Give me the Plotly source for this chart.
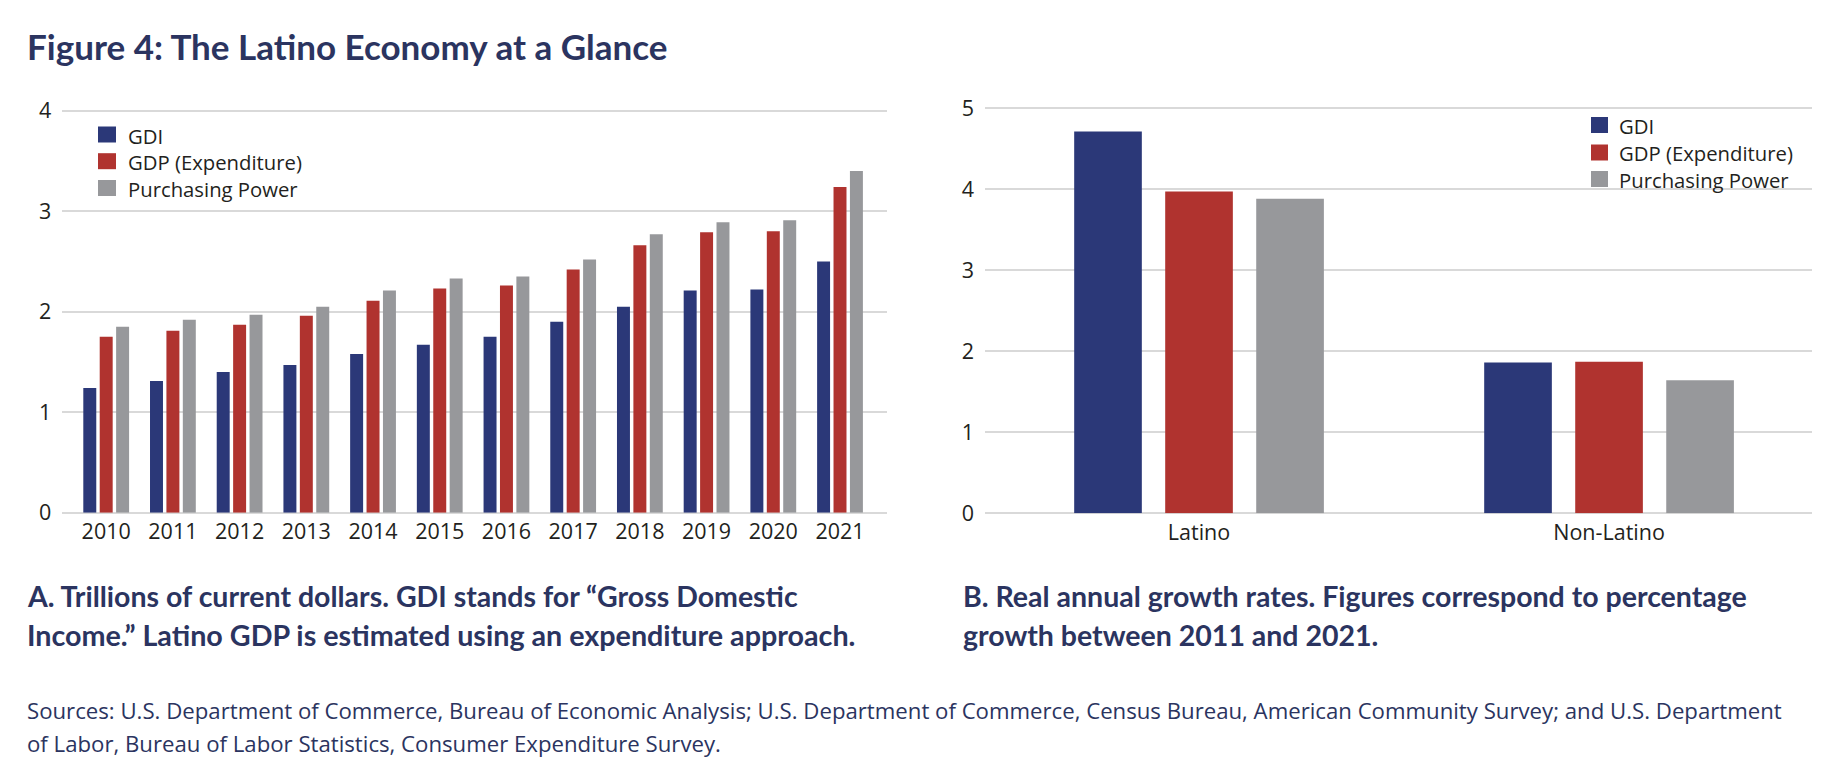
import plotly.graph_objects as go

# ---------------- data ----------------
years = ["2010", "2011", "2012", "2013", "2014", "2015", "2016", "2017", "2018", "2019", "2020", "2021"]
gdi_trillions = [1.24, 1.31, 1.40, 1.47, 1.58, 1.67, 1.75, 1.90, 2.05, 2.21, 2.22, 2.50]
gdp_trillions = [1.75, 1.81, 1.87, 1.96, 2.11, 2.23, 2.26, 2.42, 2.66, 2.79, 2.80, 3.24]
pp_trillions = [1.85, 1.92, 1.97, 2.05, 2.21, 2.33, 2.35, 2.52, 2.77, 2.89, 2.91, 3.40]

groups = ["Latino", "Non-Latino"]
gdi_growth = [4.71, 1.86]
gdp_growth = [3.97, 1.87]
pp_growth = [3.88, 1.64]

series_names = ["GDI", "GDP (Expenditure)", "Purchasing Power"]
left_ticks = [0, 1, 2, 3, 4]
right_ticks = [0, 1, 2, 3, 4, 5]

# ---------------- style ----------------
W, H = 1844, 776
BLUE = "#2b3878"
RED = "#b0332f"
GRAY = "#97989b"
NAVY = "#2b3460"
TXT = "#231f20"
GRID = "#d9d9d9"
SANS = "Open Sans, Noto Sans, sans-serif"
BOLD = "Lato, Open Sans, sans-serif"


def px(x):
    return x / W


def py(y):
    return 1 - y / H


colors = [BLUE, RED, GRAY]
left_vals = [gdi_trillions, gdp_trillions, pp_trillions]
right_vals = [gdi_growth, gdp_growth, pp_growth]

# right panel bar geometry (category units): slot and bar width
R_SLOT = 0.222
R_WIDTH = 0.165
r_offsets = [(-1.5 + i) * R_SLOT + (R_SLOT - R_WIDTH) / 2 for i in range(3)]

fig = go.Figure()
for name, vals, c in zip(series_names, left_vals, colors):
    fig.add_trace(go.Bar(x=years, y=vals, name=name, marker_color=c, marker_line_width=0,
                         xaxis="x", yaxis="y", showlegend=False))
for name, vals, c, off in zip(series_names, right_vals, colors, r_offsets):
    fig.add_trace(go.Bar(x=groups, y=vals, name=name, marker_color=c, marker_line_width=0,
                         width=R_WIDTH, offset=off,
                         xaxis="x2", yaxis="y2", showlegend=False))

axis_font = dict(family=SANS, size=21.5, color=TXT)

L_TOP = 4.02
R_TOP = 5.025
fig.update_layout(
    width=W, height=H,
    margin=dict(l=0, r=0, t=0, b=0, autoexpand=False),
    paper_bgcolor="white", plot_bgcolor="white",
    barmode="group",
    bargap=0.262, bargroupgap=0.21,
    xaxis=dict(domain=[px(62.3), px(886.7)], anchor="y", type="category", automargin=False,
               range=[-0.658, 11.70], showgrid=False, zeroline=False, showline=False,
               ticks="", tickfont=axis_font, ticklabelstandoff=4, fixedrange=True),
    yaxis=dict(domain=[py(512.7), py(110.7 - (L_TOP - 4) * 100.5)], anchor="x", range=[0, L_TOP],
               tickvals=left_ticks, showgrid=True, gridcolor=GRID, gridwidth=2, automargin=False,
               zeroline=True, zerolinecolor=GRID, zerolinewidth=2, showline=False,
               ticks="", tickfont=axis_font, ticklabelstandoff=10, fixedrange=True),
    xaxis2=dict(domain=[px(985), px(1812)], anchor="y2", type="category", automargin=False,
                range=[-0.522, 1.495], showgrid=False, zeroline=False, showline=False,
                ticks="", tickfont=axis_font, ticklabelstandoff=4, fixedrange=True),
    yaxis2=dict(domain=[py(513.3), py(108 - (R_TOP - 5) * 81.06)], anchor="x2", range=[0, R_TOP],
                tickvals=right_ticks, showgrid=True, gridcolor=GRID, gridwidth=2, automargin=False,
                zeroline=True, zerolinecolor=GRID, zerolinewidth=2, showline=False,
                ticks="", tickfont=axis_font, ticklabelstandoff=10, fixedrange=True),
    showlegend=False,
)

# ---- legends (swatch + label), one per panel ----
shapes = []
annotations = []
legend_specs = [
    (98, 116, 127, [134.5, 161.2, 188.0]),      # left panel
    (1591, 1608, 1618, [125.0, 152.5, 179.0]),  # right panel
]
for sx0, sx1, tx, rows in legend_specs:
    for name, c, yc in zip(series_names, colors, rows):
        shapes.append(dict(type="rect", xref="paper", yref="paper",
                           x0=px(sx0), x1=px(sx1), y0=py(yc + 8), y1=py(yc - 8),
                           fillcolor=c, line=dict(width=0)))
        annotations.append(dict(text=name, x=px(tx), y=py(yc + 1), borderpad=0,
                                font=dict(family=SANS, size=20.3, color=TXT)))

annotations += [
    dict(text="<b>Figure 4: The Latino Economy at a Glance</b>", x=px(26), y=py(45.5),
         font=dict(family=BOLD, size=35, color=NAVY)),
    dict(text="<b>A. Trillions of current dollars. GDI stands for \u201cGross Domestic</b>",
         x=px(26), y=py(596), font=dict(family=BOLD, size=28.5, color=NAVY)),
    dict(text="<b>Income.\u201d Latino GDP is estimated using an expenditure approach.</b>",
         x=px(26), y=py(635), font=dict(family=BOLD, size=28.7, color=NAVY)),
    dict(text="<b>B. Real annual growth rates. Figures correspond to percentage</b>",
         x=px(962), y=py(596), font=dict(family=BOLD, size=28.5, color=NAVY)),
    dict(text="<b>growth between 2011 and 2021.</b>",
         x=px(962), y=py(635), font=dict(family=BOLD, size=28.5, color=NAVY)),
    dict(text="Sources: U.S. Department of Commerce, Bureau of Economic Analysis; U.S. Department of Commerce, "
              "Census Bureau, American Community Survey; and U.S. Department",
         x=px(26), y=py(710), font=dict(family=SANS, size=22.2, color=NAVY)),
    dict(text="of Labor, Bureau of Labor Statistics, Consumer Expenditure Survey.",
         x=px(26), y=py(743), font=dict(family=SANS, size=22.2, color=NAVY)),
]
for a in annotations:
    a.update(xref="paper", yref="paper", xanchor="left", yanchor="middle", showarrow=False)
    a.setdefault("borderpad", 0)
fig.update_layout(annotations=annotations, shapes=shapes)

fig.write_html(
    "out.html", include_plotlyjs=True,
    config={"displayModeBar": False, "responsive": False},
    post_script=("document.documentElement.style.margin='0';document.body.style.margin='0';"
                 "document.body.style.overflow='hidden';document.documentElement.style.overflow='hidden';"),
)
